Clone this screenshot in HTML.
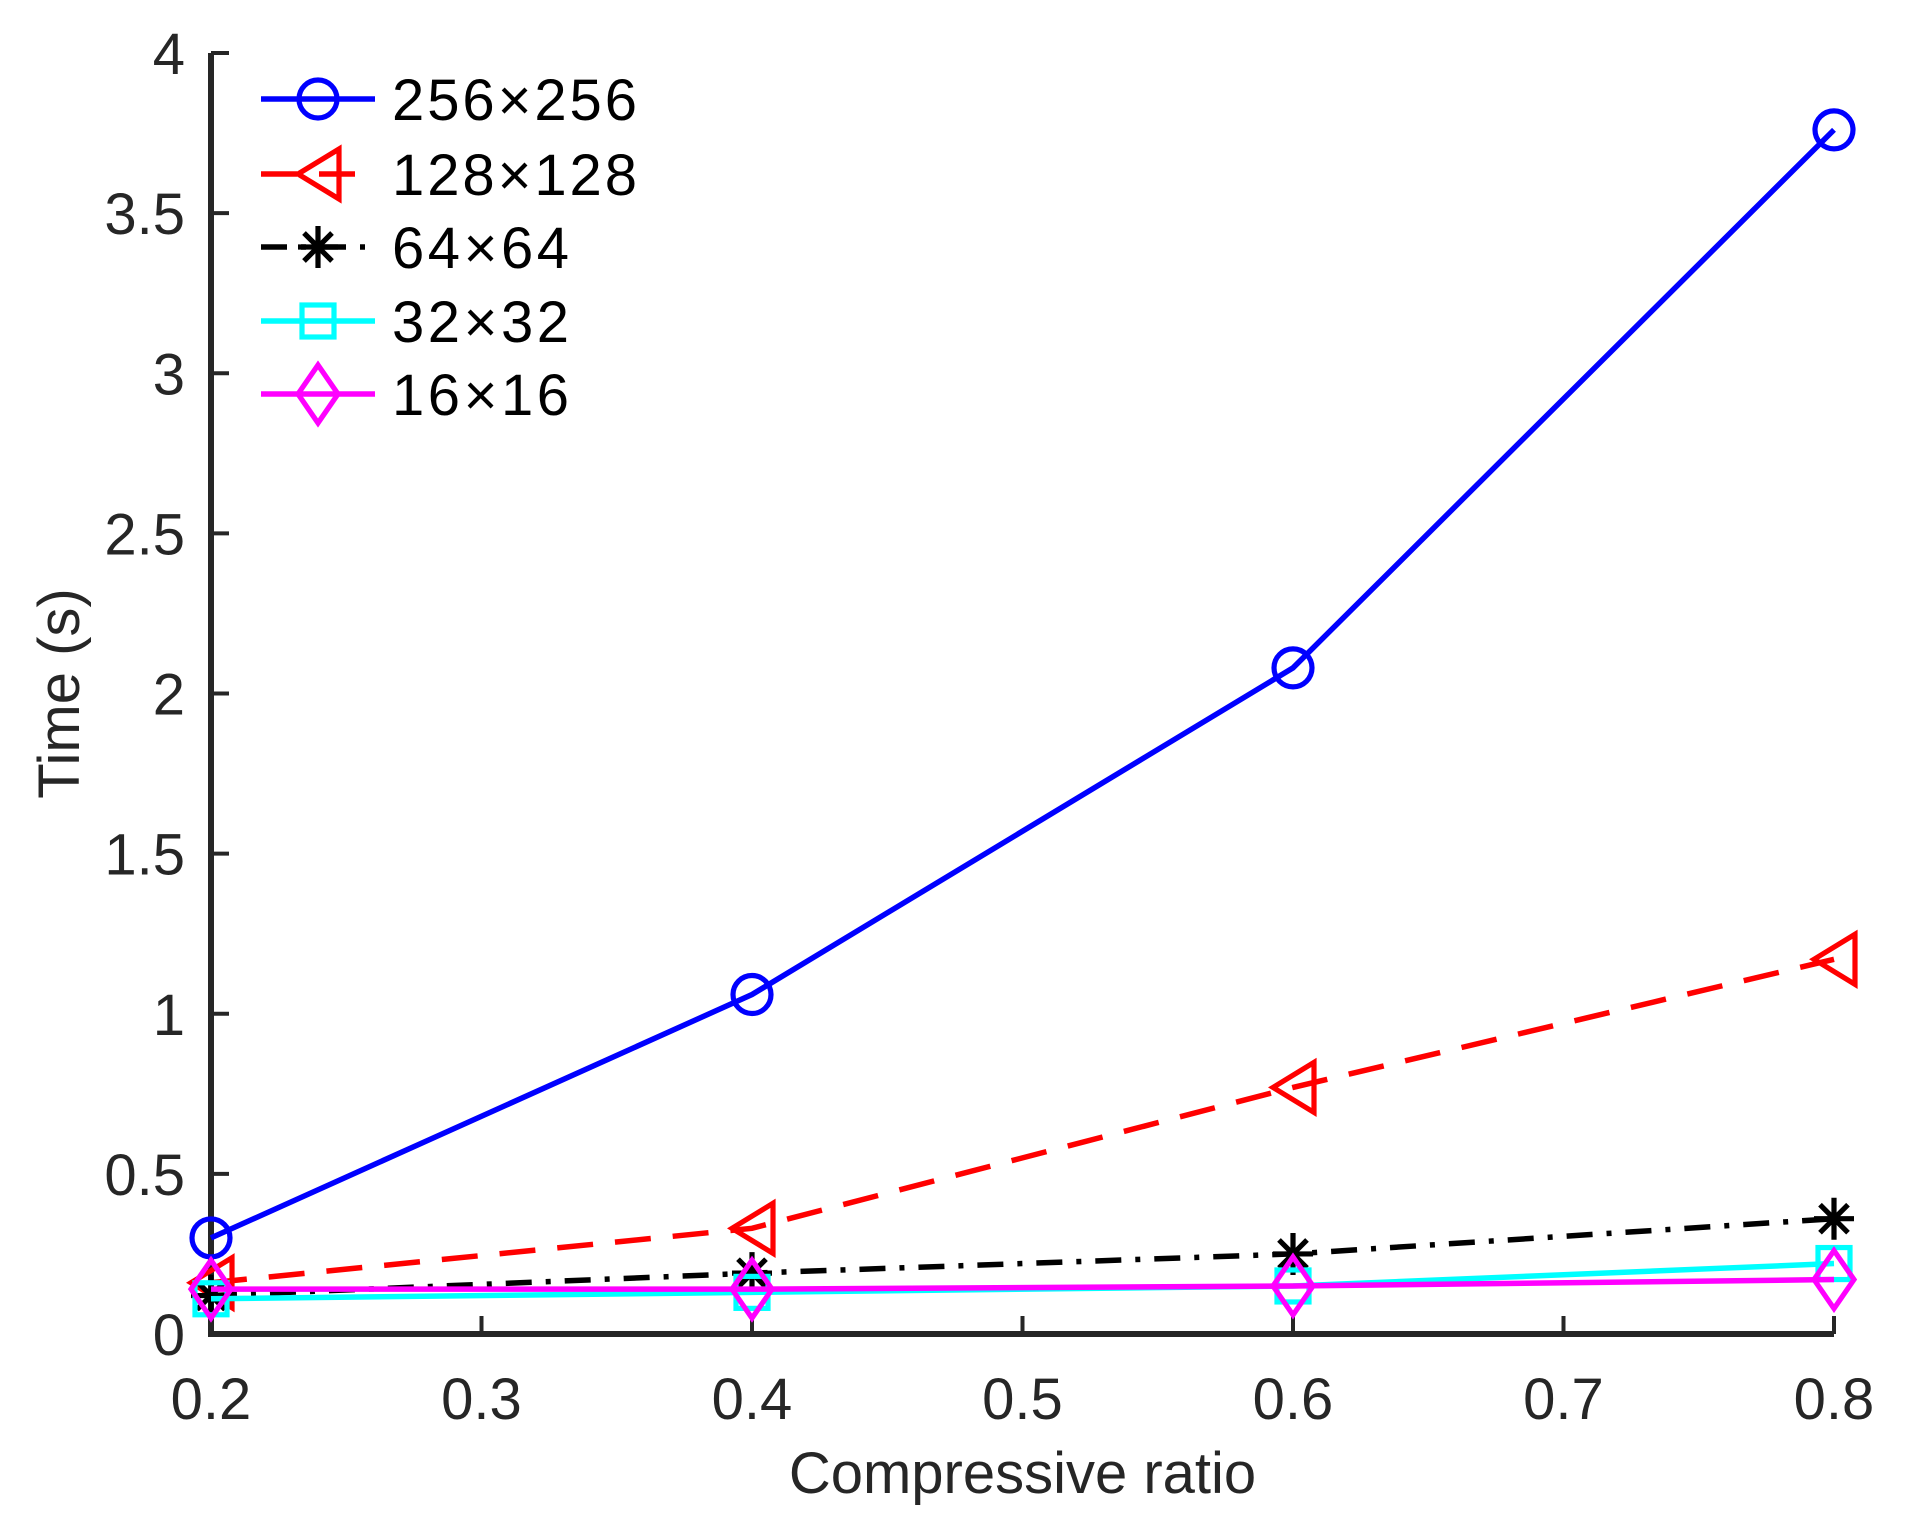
<!DOCTYPE html>
<html><head><meta charset="utf-8"><style>
html,body{margin:0;padding:0;background:#fff;}
svg{display:block;}
text{font-family:"Liberation Sans",Arial,sans-serif;}
</style></head><body>
<svg id="chart" width="1920" height="1523" viewBox="0 0 1920 1523" xmlns="http://www.w3.org/2000/svg">
<rect width="1920" height="1523" fill="#fff"/>
<g id="axes"></g>
<g id="series"></g>
<g id="legend"></g>
</svg>
<script>
const categories = [0.2, 0.4, 0.6, 0.8];
const s256 = [0.30, 1.06, 2.08, 3.76];
const s128 = [0.16, 0.33, 0.77, 1.17];
const s64 = [0.12, 0.19, 0.25, 0.36];
const s32 = [0.11, 0.13, 0.15, 0.22];
const s16 = [0.14, 0.14, 0.15, 0.17];
const xTicks = [0.2, 0.3, 0.4, 0.5, 0.6, 0.7, 0.8];
const xTickLabels = ['0.2','0.3','0.4','0.5','0.6','0.7','0.8'];
const yTicks = [0, 0.5, 1, 1.5, 2, 2.5, 3, 3.5, 4];
const yTickLabels = ['0','0.5','1','1.5','2','2.5','3','3.5','4'];
const seriesNames = ['256×256','128×128','64×64','32×32','16×16'];

const NS = 'http://www.w3.org/2000/svg';
const X0 = 211, X1 = 1834, Y0 = 1334, Y1 = 53;
function xs(v){ return X0 + (v - 0.2) / 0.6 * (X1 - X0); }
function ys(v){ return Y0 - v / 4 * (Y0 - Y1); }
function mk(tag, attrs, parent){
  const e = document.createElementNS(NS, tag);
  for (const k in attrs) e.setAttribute(k, attrs[k]);
  parent.appendChild(e); return e;
}
const axes = document.getElementById('axes');
const AX = '#262626';
let el = mk('path', {d:`M${X0} ${Y1} L${X0} ${Y0} L${X1} ${Y0}`, fill:'none', stroke:AX, 'stroke-width':6, 'stroke-linejoin':'miter'}, axes);


xTicks.forEach((t,i)=>{
  const x = xs(t);
  const tk = mk('line', {x1:x, x2:x, y1:Y0, y2:Y0-18, stroke:AX, 'stroke-width':4}, axes);
  
  
  const lb = mk('text', {x:x, y:1419, 'text-anchor':'middle', 'font-size':58, fill:AX}, axes);
  lb.textContent = xTickLabels[i];
  
  
});
yTicks.forEach((t,i)=>{
  const y = ys(t);
  const tk = mk('line', {x1:X0, x2:X0+18, y1:y, y2:y, stroke:AX, 'stroke-width':4}, axes);
  
  
  const lb = mk('text', {x:185, y:y+21, 'text-anchor':'end', 'font-size':58, fill:AX}, axes);
  lb.textContent = yTickLabels[i];
  
  
});
let xt = mk('text', {x:(X0+X1)/2, y:1493, 'text-anchor':'middle', 'font-size':58, fill:AX}, axes);
xt.textContent = 'Compressive ratio';


let yt = mk('text', {x:0, y:0, 'text-anchor':'middle', 'font-size':58, fill:AX, transform:`translate(79 ${(Y0+Y1)/2}) rotate(-90)`}, axes);
yt.textContent = 'Time (s)';



function marker(type, x, y, color, g){
  let m;
  if (type==='circle') m = mk('circle', {cx:x, cy:y, r:19, fill:'none', stroke:color, 'stroke-width':5.2}, g);
  else if (type==='tri') m = mk('path', {d:`M${x-20} ${y} L${x+21} ${y-25} L${x+21} ${y+25} Z`, fill:'none', stroke:color, 'stroke-width':5.2}, g);
  else if (type==='star') m = mk('path', {d:`M${x-20} ${y} H${x+20} M${x} ${y-21} V${y+21} M${x-14} ${y-14} L${x+14} ${y+14} M${x-14} ${y+14} L${x+14} ${y-14}`, fill:'none', stroke:color, 'stroke-width':5.2}, g);
  else if (type==='square') m = mk('rect', {x:x-16, y:y-16, width:32, height:32, fill:'none', stroke:color, 'stroke-width':5.2}, g);
  else m = mk('path', {d:`M${x} ${y-29} L${x+20} ${y} L${x} ${y+29} L${x-20} ${y} Z`, fill:'none', stroke:color, 'stroke-width':5.2}, g);
  return m;
}
const styles = [
  {data:s256, color:'#0000ff', dash:'none', m:'circle', name:'series-256'},
  {data:s128, color:'#ff0000', dash:'36 22', m:'tri', name:'series-128'},
  {data:s64, color:'#000000', dash:'26 14 5 14', m:'star', name:'series-64'},
  {data:s32, color:'#00ffff', dash:'none', m:'square', name:'series-32'},
  {data:s16, color:'#ff00ff', dash:'none', m:'diamond', name:'series-16'}
];
const sg = document.getElementById('series');
styles.forEach(s=>{
  const g = mk('g', {}, sg);
  
  
  const pts = categories.map((c,i)=>xs(c)+','+ys(s.data[i])).join(' ');
  const ln = mk('polyline', {points:pts, fill:'none', stroke:s.color, 'stroke-width':5.5, 'stroke-dasharray':s.dash}, g);
  
  
  categories.forEach((c,i)=>{
    const m = marker(s.m, xs(c), ys(s.data[i]), s.color, g);
    
    
  });
});
const lg = document.getElementById('legend');
const rowsY = [99, 174, 247, 321, 394];
const labelW = [245, 245, 177, 177, 177];
styles.forEach((s,i)=>{
  const g = mk('g', {}, lg);
  
  
  const y = rowsY[i];
  const ln = mk('line', {x1:261, x2:375, y1:y, y2:y, stroke:s.color, 'stroke-width':5.5, 'stroke-dasharray':s.dash==='none'?'none':(i===1?'36 22':'26 14 5 14')}, g);
  
  
  const m = marker(s.m, 318, y, s.color, g);
  
  
  const t = mk('text', {x:392, y:y+21, 'font-size':58, fill:'#000', textLength:labelW[i], lengthAdjust:'spacing'}, g);
  t.textContent = seriesNames[i];
  
  
});
</script>
</body></html>
